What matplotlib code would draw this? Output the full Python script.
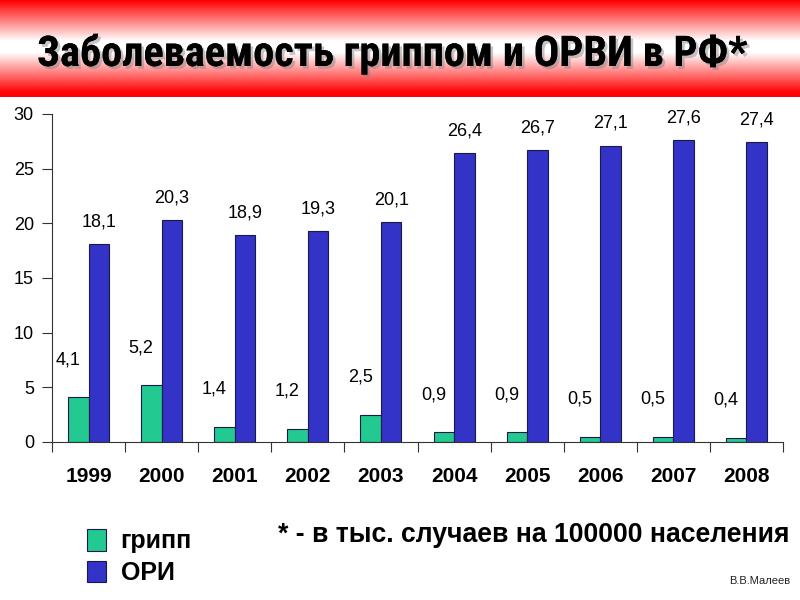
import numpy as np
import matplotlib
matplotlib.use("Agg")
import matplotlib.pyplot as plt
from matplotlib import font_manager
from matplotlib.font_manager import FontProperties
import matplotlib.patheffects as pe

years = ["1999", "2000", "2001", "2002", "2003", "2004", "2005", "2006", "2007", "2008"]
flu = [4.1, 5.2, 1.4, 1.2, 2.5, 0.9, 0.9, 0.5, 0.5, 0.4]
ari = [18.1, 20.3, 18.9, 19.3, 20.1, 26.4, 26.7, 27.1, 27.6, 27.4]
flu_labels = ["4,1", "5,2", "1,4", "1,2", "2,5", "0,9", "0,9", "0,5", "0,5", "0,4"]
ari_labels = ["18,1", "20,3", "18,9", "19,3", "20,1", "26,4", "26,7", "27,1", "27,6", "27,4"]
series_names = ["грипп", "ОРИ"]
title = "Заболеваемость гриппом и ОРВИ в РФ*"
footnote = "* - в тыс. случаев на 100000 населения"
author = "В.В.Малеев"

regular = "Liberation Sans"


def find_condensed_bold():
    prefs = ["Liberation Sans Narrow", "Roboto Condensed", "Noto Sans", "Open Sans", "DejaVu Sans", "Roboto", "Inter"]
    cands = []
    for f in font_manager.fontManager.ttflist:
        st = str(f.stretch).lower()
        nm = f.name
        wt = f.weight
        isbold = (wt == "bold") or (isinstance(wt, int) and wt >= 600) or (str(wt).isdigit() and int(wt) >= 600)
        cond = ("condensed" in st and "semi" not in st and "extra" not in st and "ultra" not in st) or "Narrow" in nm or "Condensed" in nm
        if cond and isbold and "Mono" not in nm and "Italic" not in f.fname and "Oblique" not in f.fname:
            rank = prefs.index(nm) if nm in prefs else len(prefs)
            cands.append((rank, f.fname))
    if cands:
        cands.sort()
        return cands[0][1]
    return None


cond_path = find_condensed_bold()


def title_font(size):
    if cond_path:
        return FontProperties(fname=cond_path, size=size)
    return FontProperties(family=regular, weight="bold", size=size * 0.86)


green = "#22c990"
blue = "#3333c8"
edge = "#1a1a4a"

fig = plt.figure(figsize=(8, 6), dpi=100)
fig.patch.set_facecolor("white")

# header gradient
hax = fig.add_axes([0, 1 - 97 / 600, 1, 97 / 600])
rows = np.linspace(0, 1, 200)
w = np.interp(rows, [0, 0.42, 0.54, 0.95, 1.0], [0.0, 1.0, 1.0, 0.02, 0.0])
img = np.zeros((200, 2, 3))
img[:, :, 0] = 1.0
img[:, :, 1] = w[:, None]
img[:, :, 2] = w[:, None]
hax.imshow(img, aspect="auto", extent=[0, 1, 1, 0])
hax.set_xlim(0, 1)
hax.set_ylim(1, 0)
hax.axis("off")

fig.text(37 / 800, 1 - 54 / 600, title, fontproperties=title_font(30.5),
         va="center", ha="left", color="black",
         path_effects=[pe.withSimplePatchShadow(offset=(2, -2), shadow_rgbFace="#808080", alpha=0.45), pe.Normal()])

ax = fig.add_axes([52 / 800, 1 - 442 / 600, (783 - 52) / 800, (442 - 114) / 600])
x = np.arange(len(years))
bw = 0.28
ax.bar(x - bw / 2, flu, bw, color=green, edgecolor=edge, linewidth=0.8, label=series_names[0])
ax.bar(x + bw / 2, ari, bw, color=blue, edgecolor=edge, linewidth=0.8, label=series_names[1])

for i in range(len(years)):
    ax.annotate(flu_labels[i], (x[i] - bw / 2 - 0.14, flu[i]), xytext=(0, 27), textcoords="offset points",
                ha="center", va="center", fontsize=13, family=regular, annotation_clip=False)
    ax.annotate(ari_labels[i], (x[i] + bw / 2, ari[i]), xytext=(0, 16), textcoords="offset points",
                ha="center", va="center", fontsize=13, family=regular, annotation_clip=False)

ax.set_xlim(-0.5, len(years) - 0.5)
ax.set_ylim(0, 30)
ax.set_yticks(range(0, 31, 5))
ax.set_yticklabels([str(v) for v in range(0, 31, 5)], fontsize=13, family=regular)
ax.tick_params(axis="y", length=7, width=0.8, pad=6, color="#333333")
ax.set_xticks(x)
ax.set_xticklabels(years, fontsize=15, fontweight="bold", family=regular)
ax.tick_params(axis="x", which="major", length=0, pad=18)
ax.set_xticks(np.arange(-0.5, len(years), 1), minor=True)
ax.tick_params(axis="x", which="minor", length=7, width=0.8, color="#333333")
for s in ["top", "right"]:
    ax.spines[s].set_visible(False)
for s in ["left", "bottom"]:
    ax.spines[s].set_linewidth(0.8)
    ax.spines[s].set_color("#333333")

# legend
leg = fig.legend(loc="upper left", bbox_to_anchor=(77 / 800, 1 - 519 / 600), frameon=False,
                 prop={"family": regular, "weight": "bold", "size": 18}, handlelength=0.75, handleheight=0.95,
                 handletextpad=0.6, labelspacing=0.3, borderaxespad=0)

fig.text(278 / 800, 1 - 535 / 600, footnote, fontsize=19.2, fontweight="bold", family=regular, va="center", ha="left")
fig.text(790 / 800, 1 - 581 / 600, author, fontsize=8, family=regular, va="center", ha="right", color="#222222")

fig.savefig("out.png", dpi=100)
